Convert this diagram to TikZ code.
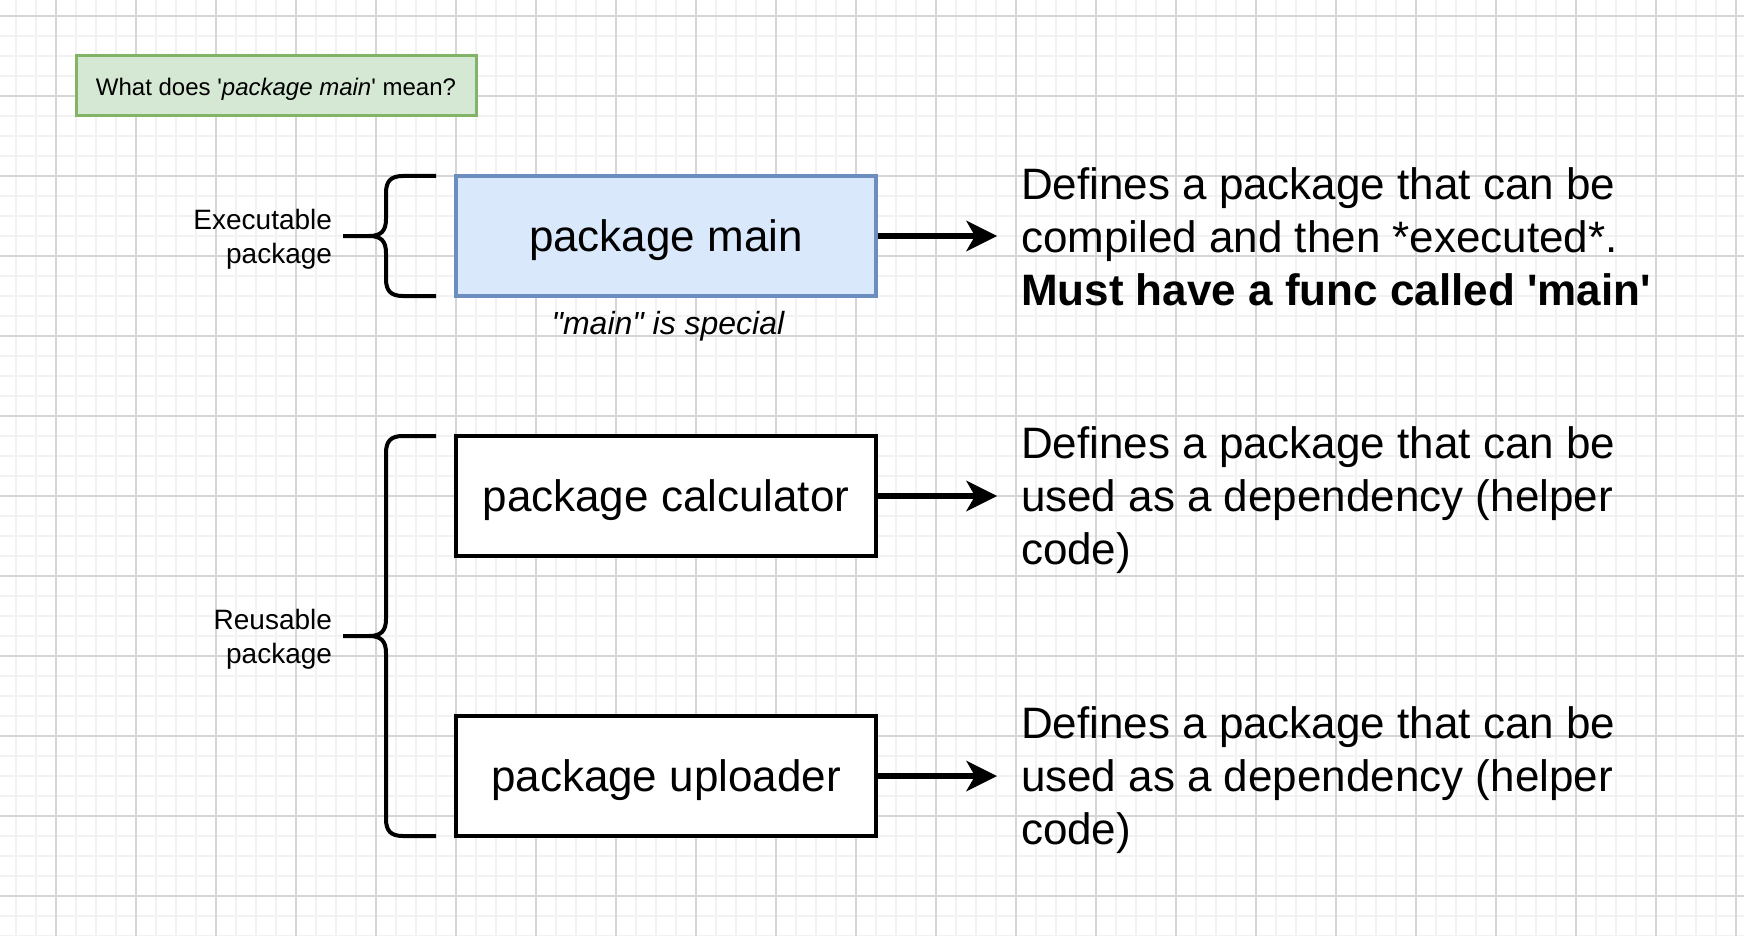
\documentclass[tikz,border=0pt]{standalone}
\usepackage{fontspec}
\setmainfont{Liberation Sans}[Ligatures=TeXOff]
\usetikzlibrary{arrows.meta}
\definecolor{gridmajor}{HTML}{D6D6D6}
\definecolor{gridminor}{HTML}{F2F2F2}
\definecolor{greenfill}{HTML}{D5E8D4}
\definecolor{greenline}{HTML}{82B366}
\definecolor{bluefill}{HTML}{DAE8FC}
\definecolor{blueline}{HTML}{6C8EBF}
\begin{document}
\begin{tikzpicture}[x=1pt,y=-1pt,
  pkgbox/.style={draw=black, line width=4pt, minimum width=420pt, minimum height=120pt, inner sep=0pt, text height=32pt, text depth=1pt, font=\fontsize{44}{53}\selectfont},
  titlebox/.style={draw=greenline, fill=greenfill, line width=3pt, minimum width=400pt, minimum height=60pt, inner sep=0pt, text height=19.5pt, text depth=1pt, font=\fontsize{24}{29}\selectfont},
  desc/.style={anchor=west, align=left, inner sep=0pt, outer sep=0pt, font=\fontsize{44}{53}\selectfont},
  sidelabel/.style={anchor=east, align=right, inner sep=0pt, outer sep=0pt, font=\fontsize{28}{34}\selectfont},
  notelabel/.style={inner sep=0pt, font=\fontsize{32}{38}\selectfont\itshape},
  bracepath/.style={line width=4pt, line join=round},
  flow/.style={line width=6pt, -{Stealth[length=31pt,width=31pt,inset=9pt,line width=0pt]}, shorten >=24pt},
  minorgrid/.style={gridminor, line width=1.5pt},
  majorgrid/.style={gridmajor, line width=1.5pt}
]
\useasboundingbox (0,0) rectangle (1744,936);
\fill[white] (0,0) rectangle (1744,936);
% grid
\foreach \gx in {16,36,...,1736} \draw[minorgrid] (\gx,0) -- (\gx,936);
\foreach \gy in {16,36,...,936} \draw[minorgrid] (0,\gy) -- (1744,\gy);
\foreach \gx in {56,136,...,1736} \draw[majorgrid] (\gx,0) -- (\gx,936);
\foreach \gy in {16,96,...,936} \draw[majorgrid] (0,\gy) -- (1744,\gy);

% title
\node[titlebox] (title) at (276,86) {What does '\textit{package main}' mean?};

% boxes
\node[pkgbox, draw=blueline, fill=bluefill] (main) at (666,236) {package main};
\node[pkgbox, fill=white] (calc) at (666,496) {package calculator};
\node[pkgbox, fill=white] (upl) at (666,776) {package uploader};

\node[notelabel] (special) at (668,326) {"main" is special};

% descriptions
\node[desc] (d1) at (1021,236.5) {Defines a package that can be\\compiled and then *executed*.\\\textbf{Must have a func called 'main'}};
\node[desc] (d2) at (1021,500.5) {Defines a package that can be\\used as a dependency (helper\\code)};
\node[desc] (d3) at (1021,780.5) {Defines a package that can be\\used as a dependency (helper\\code)};

\draw[flow] (main.east) -- (main.east -| d1.west);
\draw[flow] (calc.east) -- (calc.east -| d2.west);
\draw[flow] (upl.east) -- (upl.east -| d3.west);

% side labels
\node[sidelabel] (exe) at (332,239.5) {Executable\\package};
\node[sidelabel] (reu) at (332,639.5) {Reusable\\package};

% braces
\draw[bracepath] (436,176) -- (403,176) .. controls (391,176) and (386,181) .. (386,193) -- (386,219) .. controls (386,231) and (381,236) .. (369,236) -- (343,236);
\draw[bracepath] (369,236) .. controls (381,236) and (386,241) .. (386,253) -- (386,279) .. controls (386,291) and (391,296) .. (403,296) -- (436,296);
\draw[bracepath] (436,436) -- (403,436) .. controls (391,436) and (386,441) .. (386,453) -- (386,619) .. controls (386,631) and (381,636) .. (369,636) -- (343,636);
\draw[bracepath] (369,636) .. controls (381,636) and (386,641) .. (386,653) -- (386,819) .. controls (386,831) and (391,836) .. (403,836) -- (436,836);
\end{tikzpicture}
\end{document}
